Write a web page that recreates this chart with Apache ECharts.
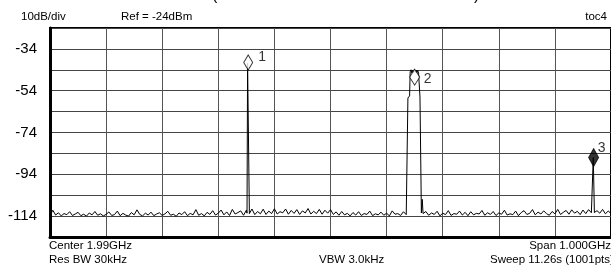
<!DOCTYPE html>
<html>
<head>
<meta charset="utf-8">
<script src="https://cdn.jsdelivr.net/npm/echarts@6/dist/echarts.min.js"></script>
<style>
html, body { margin: 0; padding: 0; background: #fff; }
#main { width: 611px; height: 270px; }
</style>
</head>
<body>
<div id="main"></div>
<script>
// spectrum analyzer screen, 10 dB/div, ref -24 dBm, 1.49 .. 2.49 GHz
const START_MHZ = 1490
const SPAN_MHZ = 1000
const STEP_MHZ = 5
const BOTTOM_DB = -124
const TOP_DB = -24
const yLabels = [-34, -54, -74, -94, -114]

// noise floor, one value every 5 MHz from the left edge
const noiseDb = [
    -113.8, -111.2, -113.5, -112.4, -113.9, -112.8, -113.3, -111.9, -113.7, -113.0,
    -112.2, -113.8, -113.1, -114.0, -112.5, -113.4, -111.8, -113.6, -112.9, -113.9,
    -113.2, -112.0, -113.7, -113.3, -111.6, -113.8, -112.7, -113.5, -114.0, -112.3,
    -113.4, -111.0, -113.2, -113.9, -112.6, -113.5, -112.1, -113.8, -113.0, -112.4,
    -113.7, -112.9, -111.7, -113.6, -113.1, -114.1, -112.5, -113.3, -111.9, -113.8,
    -112.7, -113.4, -110.9, -113.6, -112.8, -113.9, -112.2, -113.2, -111.4, -113.5,
    -112.6, -111.1, -113.4, -112.0, -113.7, -110.8, -113.0, -112.3, -111.5, -113.6,
    -111.2, -112.6, -110.6, -113.3, -111.8, -112.9, -110.7, -113.2, -111.6, -112.8,
    -110.5, -113.0, -111.9, -112.4, -110.6, -113.1, -111.3, -112.7, -110.9, -113.2,
    -111.5, -112.5, -110.4, -113.0, -111.7, -112.8, -110.8, -113.1, -111.2, -112.6,
    -110.9, -113.2, -112.0, -113.6, -111.8, -113.4, -112.7, -113.9, -112.3, -113.5,
    -111.9, -113.7, -112.8, -113.2, -111.6, -113.8, -112.9, -113.4, -112.1, -113.6,
    -112.6, -113.9, -111.5, -113.1, -112.8, -113.7, -111.9, -113.3, -112.4, -113.8,
    -112.2, -113.5, -110.9, -113.0, -111.8, -113.6, -112.5, -113.2, -111.7, -113.9,
    -112.6, -113.3, -111.4, -113.7, -112.8, -113.1, -111.6, -113.5, -112.2, -113.8,
    -111.9, -113.4, -112.7, -113.0, -111.3, -113.6, -112.4, -113.2, -111.8, -113.7,
    -112.5, -113.1, -111.2, -113.5, -112.9, -113.3, -111.6, -113.8, -112.3, -111.4,
    -113.2, -112.7, -110.9, -113.4, -112.1, -113.0, -111.5, -112.8, -113.6, -111.8,
    -112.9, -110.8, -113.2, -112.2, -111.3, -113.1, -111.0, -112.6, -111.7, -113.3,
    -111.1, -112.8, -110.9, -112.4, -113.0, -111.4, -112.6, -110.8, -112.9, -111.6,
    -112.7
]

// signals as [MHz, dBm]
const tone1 = [[1841.2, -112.6], [1842.2, -41.0], [1844.4, -41.0], [1845.4, -112.8]]
const carrier2 = [
    [2127.0, -112.8], [2128.0, -57.5], [2131.0, -56.5], [2132.0, -45.0], [2133.5, -44.0],
    [2135.0, -45.5], [2136.5, -44.2], [2138.0, -45.3], [2139.5, -44.0], [2141.0, -45.2],
    [2142.5, -44.1], [2144.0, -45.4], [2145.5, -44.3], [2147.0, -45.6], [2148.0, -46.0],
    [2149.5, -57.0], [2151.5, -57.5], [2152.0, -112.5], [2153.5, -106.0], [2155.0, -112.8]
]
const tone3 = [[2457.6, -112.5], [2458.4, -86.0], [2459.6, -86.0], [2460.4, -112.3]]

const markerNames = ['1', '2', '3']
const markerMHz = [1843.3, 2140.0, 2459.0]
const markerDb = [-40.5, -47.5, -86.0]

var chart = echarts.init(document.getElementById('main'), null, { renderer: 'canvas' })

function buildTrace() {
    const signals = [tone1, carrier2, tone3]
    var pts = []
    noiseDb.forEach(function (db, i) {
        const f = START_MHZ + i * STEP_MHZ
        const inside = signals.some(function (s) {
            return f >= s[0][0] && f <= s[s.length - 1][0]
        })
        if (!inside) pts.push([f, db])
    })
    signals.forEach(function (s) { pts = pts.concat(s) })
    pts.sort(function (a, b) { return a[0] - b[0] })
    // axes run from 0 (x: MHz from start, y: dB above bottom line)
    return pts.map(function (p) { return [p[0] - START_MHZ, p[1] - BOTTOM_DB] })
}

const markerOffsets = [[14, -5], [13, 2], [8, -9]]
const markerSizes = [[9, 15], [10, 16], [10, 18]]
const markerFill = ['#fff', '#fff', '#000']

const txt = { fontFamily: 'Liberation Sans, Arial', fontSize: 11.5, fill: '#000' }

chart.setOption({
    animation: false,
    backgroundColor: '#fff',
    grid: {
        left: 50, top: 28, width: 562, height: 209,
        show: true, borderColor: '#000', borderWidth: 2,
        containLabel: false
    },
    xAxis: {
        type: 'value', min: 0, max: SPAN_MHZ, interval: 100,
        axisLabel: { show: false }, axisTick: { show: false },
        axisLine: { show: true, lineStyle: { color: '#000', width: 3 } },
        splitLine: { show: true, lineStyle: { color: '#555', width: 1 } }
    },
    yAxis: {
        type: 'value', min: 0, max: TOP_DB - BOTTOM_DB, interval: 10,
        axisTick: { show: false },
        axisLine: { show: true, lineStyle: { color: '#000', width: 3 } },
        splitLine: { show: true, lineStyle: { color: '#444', width: 1 } },
        axisLabel: {
            margin: 13, fontSize: 15, color: '#000', fontFamily: 'Liberation Sans, Arial',
            formatter: function (v) {
                const db = Math.round(v + BOTTOM_DB)
                return yLabels.indexOf(db) >= 0 ? String(db) : ''
            }
        }
    },
    series: [
        {
            type: 'line', data: buildTrace(), showSymbol: false, symbol: 'none',
            lineStyle: { color: '#000', width: 1 }, z: 3
        },
        {
            type: 'scatter', z: 5,
            data: markerNames.map(function (n, i) {
                return {
                    name: n,
                    value: [markerMHz[i] - START_MHZ, markerDb[i] - BOTTOM_DB],
                    symbolSize: markerSizes[i],
                    itemStyle: { color: markerFill[i], borderColor: '#000', borderWidth: 1 },
                    label: { offset: markerOffsets[i] }
                }
            }),
            symbol: 'diamond',
            label: {
                show: true, position: 'inside', formatter: '{b}',
                fontSize: 14, color: '#000', fontFamily: 'Liberation Sans, Arial'
            }
        }
    ],
    graphic: [
        { type: 'text', left: 21, top: 11, style: Object.assign({}, txt, { text: '10dB/div' }) },
        { type: 'text', left: 121, top: 11, style: Object.assign({}, txt, { text: 'Ref = -24dBm' }) },
        { type: 'text', right: 4, top: 11, style: Object.assign({}, txt, { text: 'toc4' }) },
        { type: 'text', left: 49, top: 240, style: Object.assign({}, txt, { text: 'Center 1.99GHz' }) },
        { type: 'text', left: 49, top: 254, style: Object.assign({}, txt, { text: 'Res BW 30kHz' }) },
        { type: 'text', left: 319, top: 254, style: Object.assign({}, txt, { text: 'VBW 3.0kHz' }) },
        { type: 'text', right: 0, top: 240, style: Object.assign({}, txt, { text: 'Span 1.000GHz' }) },
        { type: 'text', left: 490, top: 254, style: Object.assign({}, txt, { text: 'Sweep 11.26s (1001pts)' }) },
        { type: 'text', left: 212, top: -12, style: Object.assign({}, txt, { text: '(', fontSize: 16 }) },
        { type: 'text', left: 474, top: -12, style: Object.assign({}, txt, { text: ')', fontSize: 16 }) }
    ]
})
</script>
</body>
</html>
